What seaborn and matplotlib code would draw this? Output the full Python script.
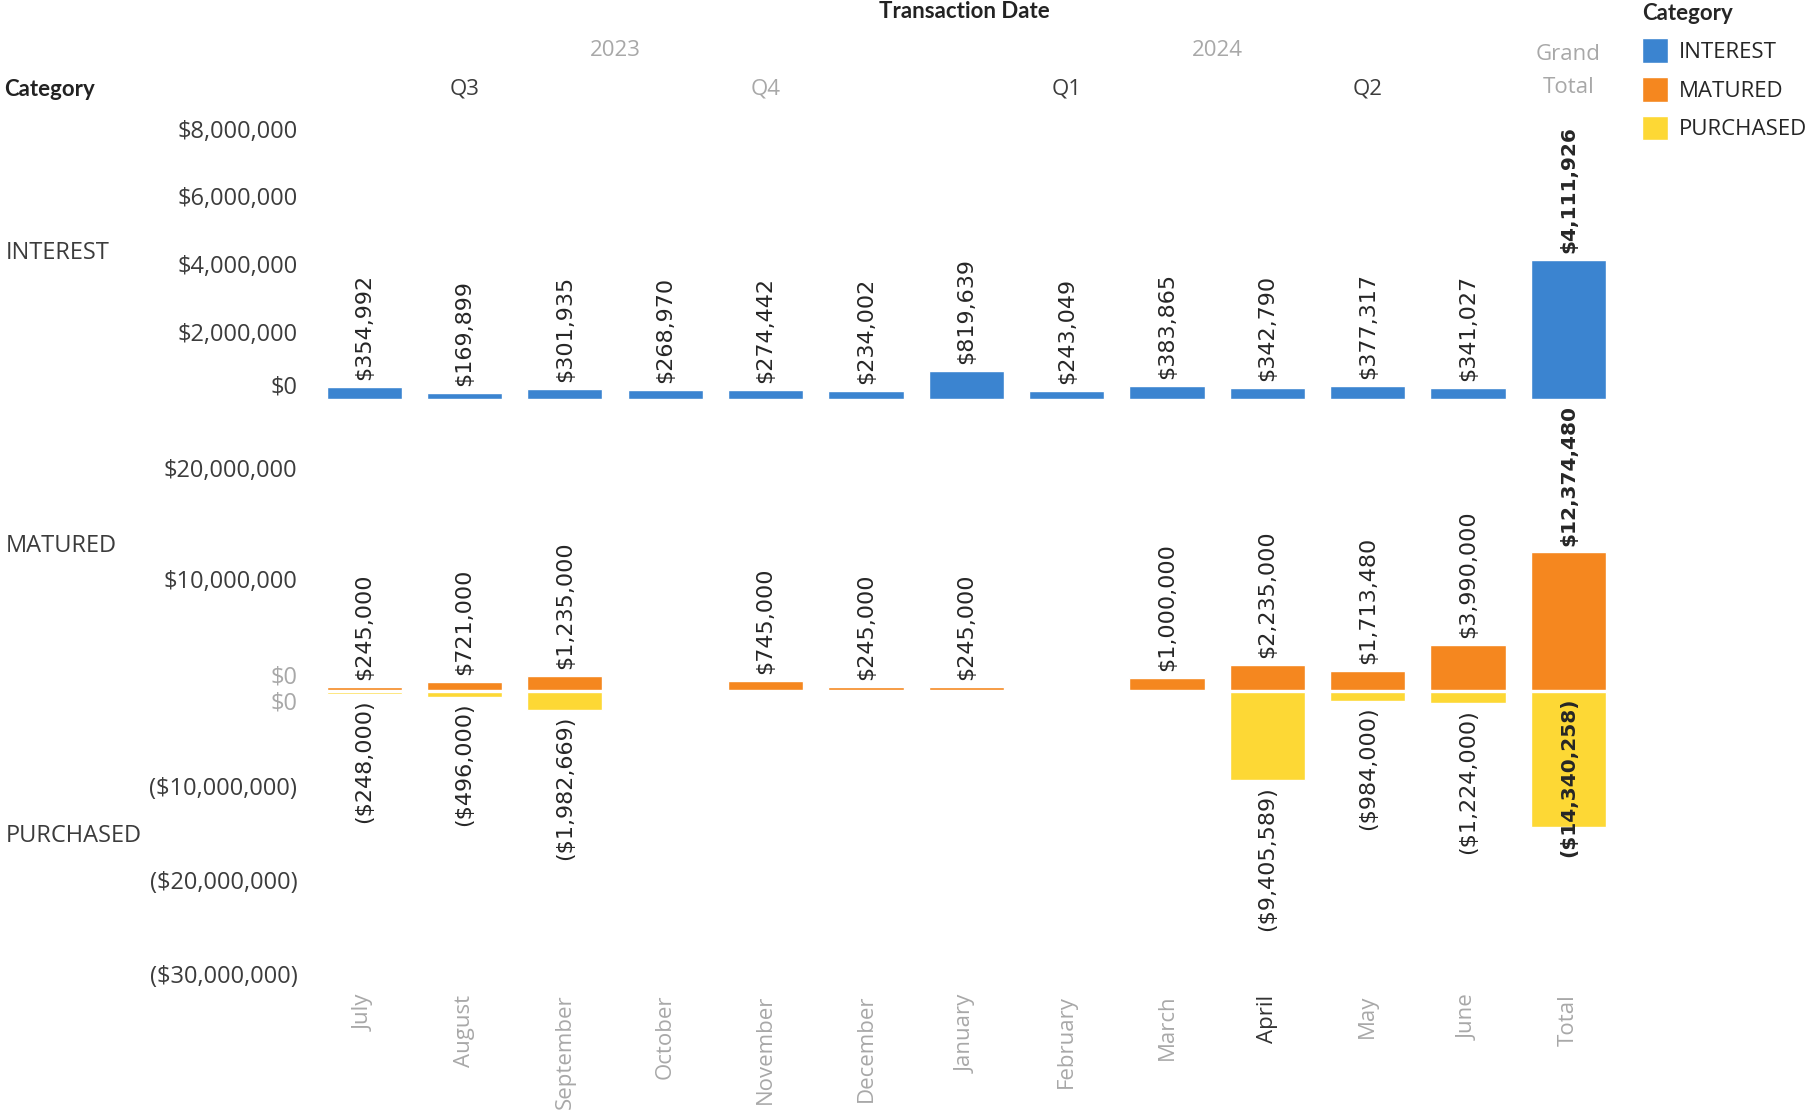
import numpy as np
import pandas as pd
import matplotlib
matplotlib.use("Agg")
import matplotlib.pyplot as plt
import matplotlib.transforms as mtransforms
from matplotlib.patches import Patch
import seaborn as sns

# data
months = ["July", "August", "September", "October", "November", "December",
          "January", "February", "March", "April", "May", "June", "Total"]
interest = [354992, 169899, 301935, 268970, 274442, 234002,
            819639, 243049, 383865, 342790, 377317, 341027, 4111926]
matured = [245000, 721000, 1235000, np.nan, 745000, 245000,
           245000, np.nan, 1000000, 2235000, 1713480, 3990000, 12374480]
purchased = [-248000, -496000, -1982669, np.nan, np.nan, np.nan,
             np.nan, np.nan, np.nan, -9405589, -984000, -1224000, -14340258]

interest_ticks = [0, 2e6, 4e6, 6e6, 8e6]
matured_ticks = [0, 10e6, 20e6]
purchased_ticks = [0, -10e6, -20e6, -30e6]

quarters = ["Q3", "Q4", "Q1", "Q2"]
quarter_pos = [1, 4, 7, 10]
years = ["2023", "2024"]
year_pos = [2.5, 8.5]

colors = {"INTEREST": "#3b84d0", "MATURED": "#f5871f", "PURCHASED": "#fdd835"}

sns.set_theme(style="white")
plt.rcParams["font.family"] = ["Open Sans", "DejaVu Sans"]

df = pd.DataFrame({"month": months, "INTEREST": interest,
                   "MATURED": matured, "PURCHASED": purchased})

DARK = "#3c3c3c"
GREY = "#a8a8a8"


def money(v):
    if v < 0:
        return "(${:,.0f})".format(-v)
    return "${:,.0f}".format(v)


fig = plt.figure(figsize=(18.17, 11.13), dpi=100)
L, W = 0.1728, 0.718
ax_int = fig.add_axes([L, 0.6095, W, 0.2915])
ax_mat = fig.add_axes([L, 0.3805, W, 0.2239])
ax_pur = fig.add_axes([L, 0.115, W, 0.2634])

panels = [(ax_int, "INTEREST", (-1.05e6, 8.55e6), interest_ticks),
          (ax_mat, "MATURED", (0, 22.5e6), matured_ticks),
          (ax_pur, "PURCHASED", (-31.2e6, 0), purchased_ticks)]

for ax, cat, lim, ticks in panels:
    sub = df[["month", cat]].dropna()
    sns.barplot(data=sub, x="month", y=cat, order=months, color=colors[cat],
                saturation=1, width=0.75, errorbar=None, ax=ax)
    ax.set_xlim(-0.5, len(months) - 0.5)
    ax.set_ylim(*lim)
    ax.set_xlabel("")
    ax.set_ylabel("")
    sns.despine(ax=ax, left=True, bottom=True)
    ax.set_yticks(ticks, labels=[money(t) for t in ticks])
    ax.tick_params(axis="y", length=0, pad=12, labelsize=17, labelcolor=DARK)

    for i, v in enumerate(df[cat]):
        if np.isnan(v):
            continue
        bold = months[i] == "Total"
        if v >= 0:
            xy, off, va = (i, v), (0, 5), "bottom"
        else:
            # the grand total label sits inside the bar in the original
            xy = (i, 0) if bold else (i, v)
            off, va = (0, -4), "top"
        ax.annotate(money(v), xy, xytext=off, textcoords="offset points",
                    rotation=90, ha="center", va=va,
                    fontsize=14.5 if bold else 16,
                    family="DejaVu Sans", color="#262626",
                    fontweight="bold" if bold else "normal",
                    annotation_clip=False)

# zero labels nudged like Tableau does
ax_int.get_yticklabels()[0].set_va("bottom")
lab = ax_mat.get_yticklabels()[0]
lab.set_va("bottom")
lab.set_color(GREY)
lab = ax_pur.get_yticklabels()[0]
lab.set_va("top")
lab.set_color(GREY)

for ax in (ax_int, ax_mat):
    ax.set_xticks([])
ax_pur.set_xticks(range(len(months)), labels=months)
ax_pur.tick_params(axis="x", length=0, pad=7, labelsize=16, labelrotation=90,
                   labelcolor=GREY)
for lbl in ax_pur.get_xticklabels():
    lbl.set_va("top")
    if lbl.get_text() == "April":
        lbl.set_color("#333333")

# column headers
tr = mtransforms.blended_transform_factory(ax_int.transData, fig.transFigure)
fig.text(0.531, 0.9896, "Transaction Date", ha="center", va="center",
         fontsize=16, fontweight="bold", color="#222222", family="Lato")
for y, p in zip(years, year_pos):
    fig.text(p, 0.955, y, transform=tr, ha="center", va="center",
             fontsize=16, color=GREY)
for q, p in zip(quarters, quarter_pos):
    fig.text(p, 0.92, q, transform=tr, ha="center", va="center", fontsize=16,
             color=GREY if q == "Q4" else DARK)
fig.text(12, 0.951, "Grand", transform=tr, ha="center", va="center",
         fontsize=16, color=GREY)
fig.text(12, 0.921, "Total", transform=tr, ha="center", va="center",
         fontsize=16, color=GREY)
fig.text(0.002, 0.92, "Category", ha="left", va="center", fontsize=16,
         fontweight="bold", color="#222222", family="Lato")

# row headers
for name, y in [("INTEREST", 0.773), ("MATURED", 0.5096), ("PURCHASED", 0.2493)]:
    fig.text(0.003, y, name, ha="left", va="center", fontsize=17, color=DARK)

handles = [Patch(facecolor=colors[c], label=c) for c in colors]
fig.legend(handles=handles, loc="upper left", bbox_to_anchor=(0.899, 1.005),
           frameon=False, fontsize=16, title="Category", alignment="left",
           title_fontproperties={"weight": "bold", "size": 16, "family": "Lato"},
           handlelength=1.15, handleheight=1.35, handletextpad=0.5,
           labelspacing=0.62, borderaxespad=0)

fig.savefig("out.png", dpi=100)
